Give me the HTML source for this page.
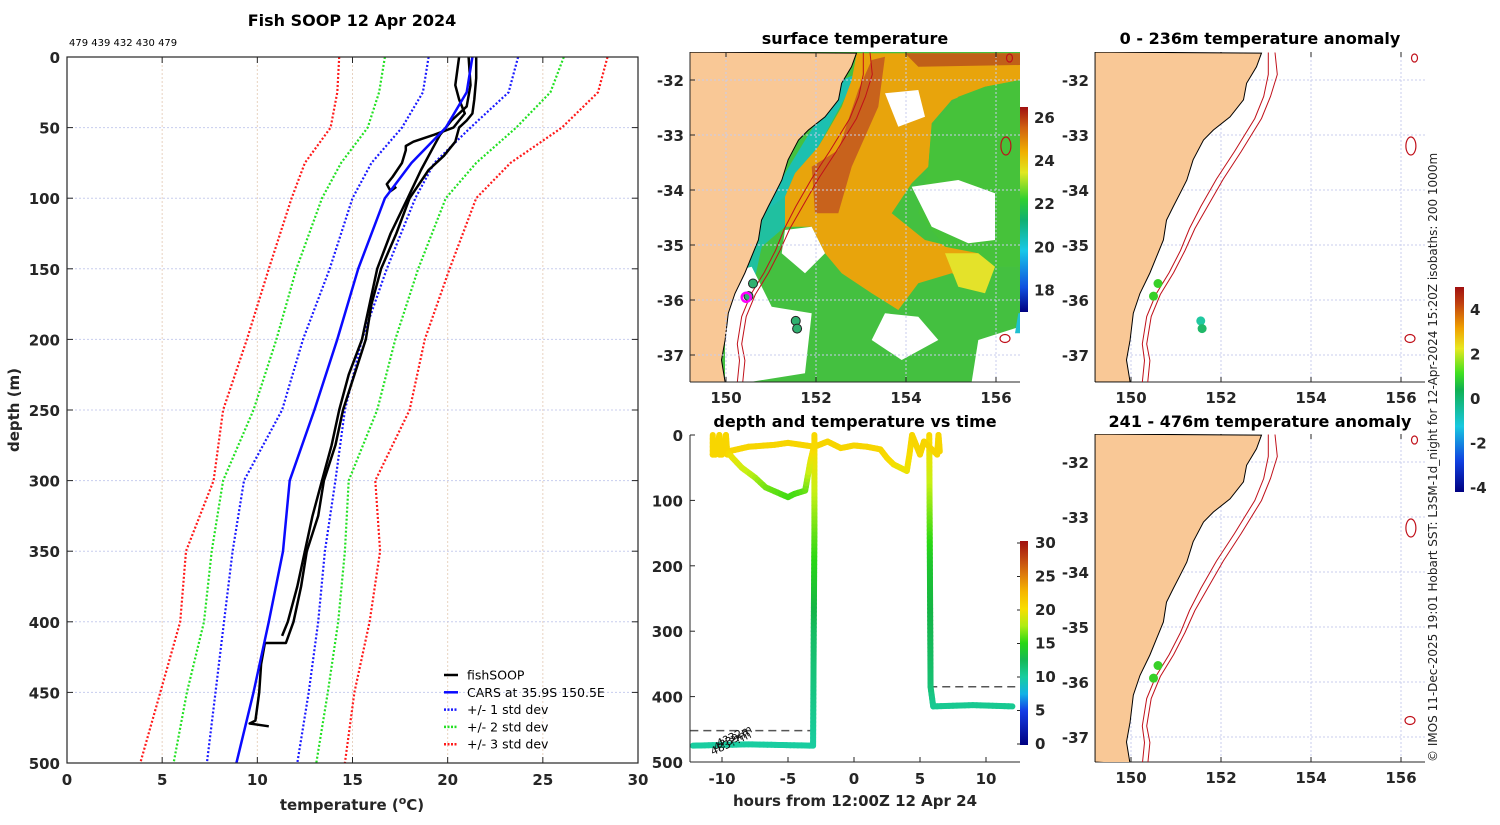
<!DOCTYPE html>
<html><head><meta charset="utf-8"><style>
body{margin:0;background:#fff;}
svg text{font-family:"DejaVu Sans","Liberation Sans",sans-serif;}
.tk{font-size:15px;font-weight:bold;fill:#262626;}
.ttl{font-size:16px;font-weight:bold;fill:#000;}
</style></head><body>
<svg id="fig" width="1500" height="820" viewBox="0 0 1500 820" xmlns="http://www.w3.org/2000/svg">
<g id="left"></g>
<g id="sst"></g>
<g id="ts"></g>
<g id="an1"></g>
<g id="an2"></g>
<text x="1437" y="762" transform="rotate(-90 1437 762)" font-size="12" fill="#222">© IMOS 11-Dec-2025 19:01 Hobart SST: L3SM-1d_night for 12-Apr-2024 15:20Z isobaths: 200  1000m</text>
</svg>
<script>
// ---------- profile data ----------
const stdDepths=[0,25,50,75,100,150,200,250,300,350,400,450,500];
const carsMean=[21.3,21.0,19.9,18.1,16.7,15.3,14.2,13.0,11.7,11.35,10.6,9.8,8.9];
const minus1=[19.0,18.7,17.6,16.0,15.0,13.8,12.4,11.3,9.3,8.7,8.25,7.8,7.35];
const plus1=[23.7,23.2,21.2,19.3,18.3,16.8,15.5,14.6,14.1,13.55,13.2,12.7,12.1];
const minus2=[16.7,16.4,15.8,14.4,13.4,12.05,11.0,9.8,8.2,7.6,7.2,6.3,5.6];
const plus2=[26.1,25.4,23.6,21.5,19.9,18.45,17.25,16.3,14.8,14.6,14.25,13.7,13.1];
const minus3=[14.3,14.2,13.85,12.5,11.8,10.6,9.45,8.2,7.7,6.25,5.95,4.9,3.85];
const plus3=[28.4,27.9,26.0,23.3,21.5,20.1,18.8,18.0,16.2,16.45,15.9,15.1,14.6];
const castADepth=[0,10,20,30,40,45,50,55,60,63,66,75,85,90,95,92];
const castATemp=[20.6,20.5,20.4,20.6,20.9,20.6,20.3,19.3,18.2,17.8,17.8,17.6,17.1,16.8,17.0,17.3];
const castBDepth=[0,15,30,40,45,50,60,70,80,100,125,150,175,200,225,250,275,300,325,350,375,400,415,415,430,450,470,472,474];
const castBTemp=[21.5,21.5,21.4,21.3,21.0,20.6,20.4,19.8,19.0,18.0,17.3,16.5,16.0,15.7,15.1,14.5,14.1,13.5,13.2,12.6,12.3,11.9,11.5,10.4,10.2,10.1,9.9,9.6,10.6];
const castCDepth=[0,20,35,45,55,65,80,100,125,150,175,200,225,250,275,300,325,350,375,400,410];
const castCTemp=[21.1,21.2,21.0,20.2,19.6,19.2,18.6,17.9,17.0,16.3,15.9,15.5,14.8,14.3,13.9,13.4,12.9,12.5,12.1,11.6,11.3];
const xTicks=[0,5,10,15,20,25,30];
const yTicks=[0,50,100,150,200,250,300,350,400,450,500];

const NS='http://www.w3.org/2000/svg';
function mk(parent,tag,attrs,text){const e=document.createElementNS(NS,tag);for(const k in attrs)e.setAttribute(k,attrs[k]);if(text!==undefined)e.textContent=text;parent.appendChild(e);return e;}

const L=document.getElementById('left');
const X0=67,X1=638,Y0=57,Y1=763;
const sx=t=>X0+t*(X1-X0)/30, sy=d=>Y0+d*(Y1-Y0)/500;
xTicks.forEach(t=>{if(t>0&&t<30){const g=mk(L,'line',{x1:sx(t),x2:sx(t),y1:Y0,y2:Y1,stroke:'#e8d2c0','stroke-dasharray':'2 2','stroke-width':1});}});
yTicks.forEach(d=>{if(d>0&&d<500){const g=mk(L,'line',{x1:X0,x2:X1,y1:sy(d),y2:sy(d),stroke:'#c8cdee','stroke-dasharray':'2 2','stroke-width':1});}});
function prof(dep,tem,color,dash,w,name){let d='';dep.forEach((v,i)=>{d+=(i?'L':'M')+sx(tem[i]).toFixed(1)+' '+sy(v).toFixed(1);});const p=mk(L,'path',{d:d,fill:'none',stroke:color,'stroke-width':w,'stroke-linejoin':'round','stroke-dasharray':dash||'none'});}
prof(stdDepths,minus3,'#ff1a1a','2 2',2.2,'minus-3-std-line');
prof(stdDepths,plus3,'#ff1a1a','2 2',2.2,'plus-3-std-line');
prof(stdDepths,minus2,'#22e022','2 2',2.2,'minus-2-std-line');
prof(stdDepths,plus2,'#22e022','2 2',2.2,'plus-2-std-line');
prof(stdDepths,minus1,'#1a1aff','2 2',2.2,'minus-1-std-line');
prof(stdDepths,plus1,'#1a1aff','2 2',2.2,'plus-1-std-line');
prof(castADepth,castATemp,'#000','',2.5,'fishsoop-cast-a');
prof(castBDepth,castBTemp,'#000','',2.5,'fishsoop-cast-b');
prof(castCDepth,castCTemp,'#000','',2.5,'fishsoop-cast-c');
prof(stdDepths,carsMean,'#0a0aff','',2.5,'cars-mean-line');
let fr=mk(L,'rect',{x:X0,y:Y0,width:X1-X0,height:Y1-Y0,fill:'none',stroke:'#262626','stroke-width':1.2});
xTicks.forEach(t=>{mk(L,'line',{x1:sx(t),x2:sx(t),y1:Y1,y2:Y1-6,stroke:'#262626'});mk(L,'line',{x1:sx(t),x2:sx(t),y1:Y0,y2:Y0+6,stroke:'#262626'});const e=mk(L,'text',{x:sx(t),y:Y1+22,'text-anchor':'middle',class:'tk'},t);});
yTicks.forEach(d=>{mk(L,'line',{x1:X0,x2:X0+6,y1:sy(d),y2:sy(d),stroke:'#262626'});mk(L,'line',{x1:X1,x2:X1-6,y1:sy(d),y2:sy(d),stroke:'#262626'});const e=mk(L,'text',{x:X0-7,y:sy(d)+6,'text-anchor':'end',class:'tk'},d);});
let t1=mk(L,'text',{x:352,y:26,'text-anchor':'middle',class:'ttl'},'Fish SOOP 12 Apr 2024');
let t2=mk(L,'text',{x:69,y:46,'font-size':10,fill:'#000'},'479 439 432 430 479');
let yl=mk(L,'text',{x:19,y:410,transform:'rotate(-90 19 410)','text-anchor':'middle',class:'tk','font-size':16},'depth (m)');
let xl=mk(L,'text',{x:352,y:810,'text-anchor':'middle',class:'tk'});xl.innerHTML='temperature (<tspan dy="-6" font-size="11">o</tspan><tspan dy="6">C)</tspan>';
const legLabels=['fishSOOP','CARS at 35.9S 150.5E','+/- 1 std dev','+/- 2 std dev','+/- 3 std dev'];
const legColors=['#000','#0a0aff','#1a1aff','#22e022','#ff1a1a'];
legLabels.forEach((s,i)=>{const y=675+i*17.3;const g=mk(L,'g',{});mk(g,'line',{x1:444,x2:458,y1:y,y2:y,stroke:legColors[i],'stroke-width':2.5,'stroke-dasharray':i>1?'2 1.5':'none'});mk(g,'text',{x:467,y:y+4.5,'font-size':12.5,fill:'#000'},s);});

// ---------- maps ----------
const lonTicks=[150,152,154,156];
const latTicks=[-32,-33,-34,-35,-36,-37];
const coastLon=[152.90,152.79,152.57,152.50,152.2,151.83,151.61,151.38,151.24,151.09,150.94,150.79,150.72,150.57,150.42,150.2,150.05,149.98,149.9,149.98];
const coastLat=[-31.51,-31.76,-32.06,-32.36,-32.67,-32.91,-33.09,-33.45,-33.82,-34.06,-34.30,-34.55,-34.91,-35.21,-35.51,-35.88,-36.24,-36.73,-37.09,-37.49];
const iso200Lon=[153.05,153.05,152.95,152.75,152.3,151.9,151.55,151.3,151.1,150.85,150.55,150.35,150.25,150.3,150.25];
const iso200Lat=[-31.5,-31.9,-32.3,-32.7,-33.3,-33.8,-34.3,-34.7,-35.1,-35.5,-35.9,-36.3,-36.8,-37.1,-37.5];
const iso1000Lon=[153.2,153.25,153.1,152.9,152.45,152.05,151.7,151.42,151.2,150.95,150.65,150.45,150.35,150.42,150.37];
const obsLon=[150.6,150.5,151.55,151.58];
const obsLat=[-35.7,-35.93,-36.38,-36.52];
const obsAnomTop=[0.3,0.2,-1.2,-0.6];
const obsAnomBot=[0.3,0.2];

function makeMap(G,ax0,ay0,ax1,ay1){
  const mx=lon=>ax0+36+(lon-150)*45, my=lat=>ay0+28+(-32-lat)*55;
  mk(G,'rect',{x:ax0,y:ay0,width:ax1-ax0,height:ay1-ay0,fill:'#fff'});
  return {mx,my};
}
function drawLand(G,m,ax0,ay0,ax1,ay1,clipId){
  let d='M'+ax0+' '+ay0;coastLon.forEach((v,i)=>{d+='L'+m.mx(v).toFixed(1)+' '+m.my(coastLat[i]).toFixed(1);});d+='L'+ax0+' '+ay1+'Z';
  const land=mk(G,'path',{d:d,fill:'#f9c896',stroke:'#000','stroke-width':1,'clip-path':'url(#'+clipId+')'});
  [[iso200Lon,'isobath-200m'],[iso1000Lon,'isobath-1000m']].forEach(([arr,n])=>{let p='';arr.forEach((v,i)=>{p+=(i?'L':'M')+m.mx(v).toFixed(1)+' '+m.my(iso200Lat[i]).toFixed(1);});const e=mk(G,'path',{d:p,fill:'none',stroke:'#c0101a','stroke-width':1,'clip-path':'url(#'+clipId+')'});});
  [[156.22,-33.2,5,9],[156.3,-31.6,3,4],[156.2,-36.7,5,4]].forEach(([lo,la,rx,ry])=>{const e=mk(G,'ellipse',{cx:m.mx(lo),cy:m.my(la),rx:rx,ry:ry,fill:'none',stroke:'#c0101a','stroke-width':1.2});});
}
function mapAxes(G,m,ax0,ay0,ax1,ay1,showLon){
  lonTicks.forEach(v=>{mk(G,'line',{x1:m.mx(v),x2:m.mx(v),y1:ay0,y2:ay1,stroke:'#c8cdee','stroke-dasharray':'2 2'});});
  latTicks.forEach(v=>{mk(G,'line',{x1:ax0,x2:ax1,y1:m.my(v),y2:m.my(v),stroke:'#c8cdee','stroke-dasharray':'2 2'});const e=mk(G,'text',{x:ax0-6,y:m.my(v)+6,'text-anchor':'end',class:'tk'},v);mk(G,'line',{x1:ax0,x2:ax0+5,y1:m.my(v),y2:m.my(v),stroke:'#262626'});});
  if(showLon)lonTicks.forEach(v=>{const e=mk(G,'text',{x:m.mx(v),y:ay1+21,'text-anchor':'middle',class:'tk'},v);});
  lonTicks.forEach(v=>{mk(G,'line',{x1:m.mx(v),x2:m.mx(v),y1:ay1,y2:ay1-5,stroke:'#262626'});mk(G,'line',{x1:m.mx(v),x2:m.mx(v),y1:ay0,y2:ay0+5,stroke:'#262626'});});
  mk(G,'line',{x1:ax0,x2:ax0,y1:ay0,y2:ay1,stroke:'#262626'});mk(G,'line',{x1:ax0,x2:ax1,y1:ay1,y2:ay1,stroke:'#262626'});
}
const defs=mk(document.getElementById('fig'),'defs',{});
[['c1',690,52,330,330],['c2',1095,52,330,330],['c3',1095,434,330,328]].forEach(([id,x,y,w,h])=>{const c=mk(defs,'clipPath',{id:id});mk(c,'rect',{x:x,y:y,width:w,height:h});});

// SST map
const S=document.getElementById('sst');
const m1=makeMap(S,690,52,1020,382);
mk(S,'rect',{x:690,y:52,width:330,height:330,fill:'#44c040'});
const sstBlobs=[
 ['#1cc0b0',[[470,120],[520,100],[400,320],[330,400],[300,470],[230,620],[180,800],[140,800],[200,600],[300,400]]],
 ['#e8a40c',[[515,40],[1005,40],[1005,120],[900,140],[800,180],[740,250],[730,380],[680,430],[620,520],[720,600],[880,640],[930,680],[900,740],[800,700],[700,730],[640,810],[560,760],[470,700],[420,640],[380,560],[300,560],[300,470],[330,400],[400,320],[430,270],[470,200],[500,120]]],
 ['#c8621c',[[380,380],[460,330],[520,150],[560,60],[600,50],[580,200],[500,380],[460,520],[390,520]]],
 ['#c06018',[[660,40],[1005,40],[1005,75],[700,80]]],
 ['#46c23a',[[740,260],[820,170],[900,140],[1005,120],[1005,680],[900,680],[880,640],[780,620],[700,520],[730,380]]],
 ['#ffffff',[[680,440],[820,420],[930,460],[930,600],[850,610],[740,560]]],
 ['#ffffff',[[600,160],[700,150],[720,230],[640,260]]],
 ['#e4e22a',[[780,640],[880,640],[930,680],[900,760],[820,740]]],
 ['#20c0a0',[[230,520],[300,470],[300,560],[230,620],[200,760],[150,760],[190,600]]],
 ['#ffffff',[[120,700],[200,680],[260,800],[380,820],[360,1000],[200,1025],[120,1025]]],
 ['#ffffff',[[300,570],[380,560],[420,640],[360,700],[290,640]]],
 ['#ffffff',[[600,820],[700,830],[760,900],[650,960],[560,900]]],
 ['#ffffff',[[880,900],[1005,860],[1005,1025],[860,1025]]],
 ['#20c0d0',[[1000,820],[1005,820],[1005,880],[990,880]]]
];
sstBlobs.forEach(([c,pts])=>{const e=mk(S,'polygon',{points:pts.map(p=>(685+p[0]/3).toFixed(1)+','+(40+p[1]/3).toFixed(1)).join(' '),fill:c,'clip-path':'url(#c1)'});});
drawLand(S,m1,690,52,1020,382,'c1');
mapAxes(S,m1,690,52,1020,382,true);
obsLon.forEach((v,i)=>{const e=mk(S,'circle',{cx:m1.mx(v),cy:m1.my(obsLat[i]),r:4.5,fill:'#30b070',stroke:'#222'});});
let mg=mk(S,'circle',{cx:m1.mx(150.45),cy:m1.my(-35.95),r:4.5,fill:'none',stroke:'#ff00ff','stroke-width':2.5});
let st=mk(S,'text',{x:855,y:44,'text-anchor':'middle',class:'ttl'},'surface temperature');
const sstCbTicks=[18,20,22,24,26];
const sg=mk(defs,'linearGradient',{id:'gs',x1:0,y1:1,x2:0,y2:0});
[['0','#000080'],['0.12','#1050e0'],['0.3','#18c8e8'],['0.45','#10b070'],['0.55','#30d030'],['0.68','#e0e820'],['0.78','#f0b000'],['0.9','#d06010'],['1','#a01010']].forEach(([o,c])=>mk(sg,'stop',{offset:o,'stop-color':c}));
const cbS=v=>312-(v-17)*(312-107)/(26.5-17);
mk(S,'rect',{x:1020,y:107,width:8,height:205,fill:'url(#gs)'});
sstCbTicks.forEach(v=>{const e=mk(S,'text',{x:1034,y:cbS(v)+5,class:'tk','font-size':13},v);});

// anomaly maps
[['an1',52,382,'0 - 236m temperature anomaly',44,'c2',obsAnomTop],['an2',434,762,'241 - 476m temperature anomaly',427,'c3',obsAnomBot]].forEach(([id,y0,y1,tt,ty,cl,anom])=>{
  const G=document.getElementById(id);
  const m=makeMap(G,1095,y0,1425,y1);
  mapAxes(G,m,1095,y0,1425,y1,true);
  drawLand(G,m,1095,y0,1425,y1,cl);
  const anCol=a=>a>0?'#38d028':(a>-0.9?'#20b868':'#20c8a0');
  anom.forEach((a,i)=>{const e=mk(G,'circle',{cx:m.mx(obsLon[i]),cy:m.my(obsLat[i]),r:4.5,fill:anCol(a)});});
  const e=mk(G,'text',{x:1260,y:ty,'text-anchor':'middle',class:'ttl'},tt);
});
const ag=mk(defs,'linearGradient',{id:'ga',x1:0,y1:1,x2:0,y2:0});
[['0','#000080'],['0.15','#1040e0'],['0.32','#18c8e0'],['0.5','#10b050'],['0.58','#40e020'],['0.7','#e8e820'],['0.8','#f0a000'],['0.92','#c04010'],['1','#a01010']].forEach(([o,c])=>mk(ag,'stop',{offset:o,'stop-color':c}));
const anTicks=[4,2,0,-2,-4];
const cbA=v=>399-v*22.2;
mk(document.getElementById('an1'),'rect',{x:1455,y:287,width:9,height:205,fill:'url(#ga)'});
anTicks.forEach(v=>{const e=mk(document.getElementById('an1'),'text',{x:1470,y:cbA(v)+5,class:'tk','font-size':13},v);});

// ---------- depth/time chart ----------
const trackHours=[-10.7,-10.7,-10.5,-10.2,-10.2,-10.0,-9.7,-9.6,-9.5,-9.2,-8.5,-7.5,-6.7,-5.8,-5.0,-4.5,-3.7,-3.3,-3.0];
const trackDepth=[0,30,30,0,30,30,0,30,28,35,50,65,80,88,95,90,85,40,15];
const trackTemp=[20.5,20.5,20.5,20.5,20.5,20.5,20.5,20.5,20.5,19.5,18.5,17.5,16.5,16,15.5,15.5,16,19,20.5];
const surfHours=[-10.7,-9.5,-8,-6,-5,-3.0,-2,-1,0,1,2,2.5,3,3.5,4,4.2,4.4,5,5.3,6.3,6.4,6.5];
const surfDepth=[30,25,18,15,12,18,10,20,16,18,22,35,45,50,55,30,0,30,10,30,0,25];
const surfTemp=[20.6,20.6,20.6,20.6,20.6,20.6,20.6,20.6,20.6,20.6,20.6,20.3,20,19.5,19.5,20,20.6,20.6,20.6,20.6,20.6,20.6];
const cast1Hours=[-12.2,-8,-3.1,-3.05,-3.0,-3.0];
const cast1Depth=[475,473,475,300,150,0];
const cast1Temp=[10,10,10,12,16,20.5];
const cast2Hours=[5.7,5.75,5.8,6.0,9,12];
const cast2Depth=[0,200,385,415,413,415];
const cast2Temp=[20.5,14,11.5,10.5,10.5,10.5];
const bottom1Hours=[-12.4,-3.1], bottom1Depth=[452,452];
const bottom2Hours=[5.7,12.6], bottom2Depth=[385,385];
const tsXTicks=[-10,-5,0,5,10];
const tsYTicks=[0,100,200,300,400,500];
const tsCbTicks=[0,5,10,15,20,25,30];
const T=document.getElementById('ts');
const TX0=690,TX1=1020,TY0=435,TY1=762;
const tx=h=>854+h*13.2, ty=d=>TY0+d*(TY1-TY0)/500;
function tcol(v){const st=[[0,[0,0,128]],[5,[20,60,230]],[8,[20,200,230]],[10,[25,205,160]],[13,[20,180,70]],[15,[40,215,20]],[18,[200,240,20]],[20,[248,222,0]],[23,[245,175,0]],[26,[210,100,20]],[30,[160,15,15]]];for(let i=1;i<st.length;i++){if(v<=st[i][0]){const a=st[i-1],b=st[i],f=(v-a[0])/(b[0]-a[0]);return 'rgb('+a[1].map((c,j)=>Math.round(c+(b[1][j]-c)*f)).join(',')+')';}}return 'rgb(160,15,15)';}
function track(H,D,Tm,name){for(let i=1;i<H.length;i++){const n=Math.max(1,Math.ceil(Math.hypot(tx(H[i])-tx(H[i-1]),ty(D[i])-ty(D[i-1]))/4));for(let k=0;k<n;k++){const f0=k/n,f1=(k+1)/n;const e=mk(T,'line',{x1:tx(H[i-1]+(H[i]-H[i-1])*f0),y1:ty(D[i-1]+(D[i]-D[i-1])*f0),x2:tx(H[i-1]+(H[i]-H[i-1])*f1),y2:ty(D[i-1]+(D[i]-D[i-1])*f1),stroke:tcol(Tm[i-1]+(Tm[i]-Tm[i-1])*(f0+f1)/2),'stroke-width':6,'stroke-linecap':'round'});}}}
[[bottom1Hours,bottom1Depth],[bottom2Hours,bottom2Depth]].forEach(([H,D])=>{const e=mk(T,'line',{x1:tx(H[0]),x2:tx(H[1]),y1:ty(D[0]),y2:ty(D[1]),stroke:'#555','stroke-width':1.5,'stroke-dasharray':'8 5'});});
track(cast1Hours,cast1Depth,cast1Temp,'cast-track');
track(cast2Hours,cast2Depth,cast2Temp,'cast-track');
track(surfHours,surfDepth,surfTemp,'surface-track');
track(trackHours,trackDepth,trackTemp,'surface-track');
['483??m','4?39m','4?32m'].forEach((s,i)=>{const e=mk(T,'text',{x:tx(-10.7)+i*3,y:ty(490)-i*4,transform:'rotate(-25 '+(tx(-10.7)+i*3)+' '+(ty(490)-i*4)+')','font-size':11,fill:'#111'},s);});
mk(T,'line',{x1:TX0,x2:TX0,y1:TY0,y2:TY1,stroke:'#262626'});mk(T,'line',{x1:TX0,x2:TX1,y1:TY1,y2:TY1,stroke:'#262626'});
tsXTicks.forEach(h=>{mk(T,'line',{x1:tx(h),x2:tx(h),y1:TY1,y2:TY1-5,stroke:'#262626'});const e=mk(T,'text',{x:tx(h),y:TY1+22,'text-anchor':'middle',class:'tk'},h);});
tsYTicks.forEach(d=>{mk(T,'line',{x1:TX0,x2:TX0+5,y1:ty(d),y2:ty(d),stroke:'#262626'});const e=mk(T,'text',{x:TX0-7,y:ty(d)+6,'text-anchor':'end',class:'tk'},d);});
let tt=mk(T,'text',{x:855,y:427,'text-anchor':'middle',class:'ttl'},'depth and temperature vs time');
let tx2=mk(T,'text',{x:855,y:806,'text-anchor':'middle',class:'tk','font-size':16},'hours from 12:00Z 12 Apr 24');
const tg=mk(defs,'linearGradient',{id:'gt',x1:0,y1:1,x2:0,y2:0});
for(let v=0;v<=30;v+=2.5)mk(tg,'stop',{offset:(v/30).toFixed(3),'stop-color':tcol(v)});
const cbT=v=>744-v*(744-543)/30;
mk(T,'rect',{x:1020,y:541,width:8,height:204,fill:'url(#gt)'});
tsCbTicks.forEach(v=>{mk(T,'line',{x1:1017,x2:1020,y1:cbT(v),y2:cbT(v),stroke:'#262626'});const e=mk(T,'text',{x:1035,y:cbT(v)+5,class:'tk','font-size':13},v);});
</script>
</body></html>
